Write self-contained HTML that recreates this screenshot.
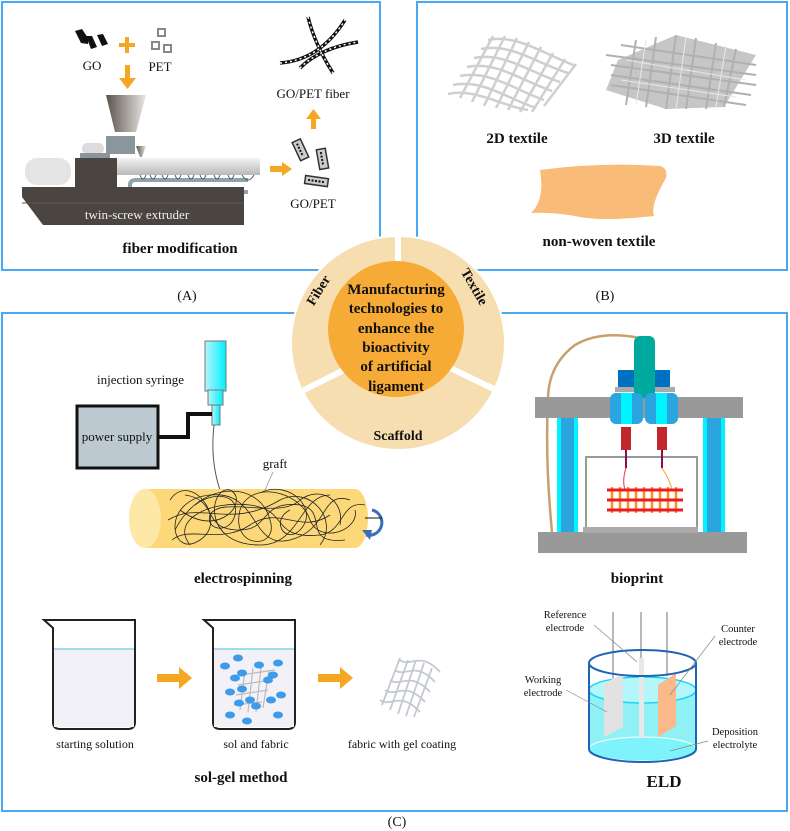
<!DOCTYPE html>
<html><head><meta charset="utf-8"><style>
html,body{margin:0;padding:0;background:#fff}
svg{display:block}
text{font-family:"Liberation Serif",serif;fill:#111}
.b{font-weight:bold}
</style></head><body>
<svg width="790" height="831" viewBox="0 0 790 831" xmlns="http://www.w3.org/2000/svg">
<defs>
<linearGradient id="hop" x1="0" x2="1"><stop offset="0" stop-color="#5a534d"/><stop offset="1" stop-color="#e8e6e4"/></linearGradient>
<linearGradient id="bar" x1="0" y1="0" x2="0" y2="1"><stop offset="0" stop-color="#f4f4f4"/><stop offset="1" stop-color="#b8b8b8"/></linearGradient>
<linearGradient id="syr" x1="0" x2="1"><stop offset="0" stop-color="#b8f4f8"/><stop offset="1" stop-color="#00f0ff"/></linearGradient>
</defs>

<rect x="2" y="2" width="378" height="268" fill="none" stroke="#4aa8f0" stroke-width="2"/>
<rect x="417" y="2" width="370" height="268" fill="none" stroke="#4aa8f0" stroke-width="2"/>
<rect x="2" y="313" width="785" height="498" fill="none" stroke="#4aa8f0" stroke-width="2"/>
<text x="187" y="300" font-size="14" text-anchor="middle">(A)</text>
<text x="605" y="300" font-size="14" text-anchor="middle">(B)</text>
<text x="397" y="826" font-size="14" text-anchor="middle">(C)</text>

<!-- Panel A -->
<g fill="#111">
<polygon points="75,31 82,29 88,38 88,44 81,43"/>
<polygon points="86,36 92,36 97,47 91,49"/>
<polygon points="97,35 103,34 108,44 102,46"/>
</g>
<rect x="125" y="37" width="4" height="16" fill="#f5a623"/><rect x="119" y="43" width="16" height="4" fill="#f5a623"/>
<g fill="#fff" stroke="#888" stroke-width="2"><rect x="158" y="29" width="7" height="7"/><rect x="152" y="42" width="7" height="7"/><rect x="164" y="45" width="7" height="7"/></g>
<text x="92" y="70" font-size="13" text-anchor="middle">GO</text>
<text x="160" y="71" font-size="13" text-anchor="middle">PET</text>
<rect x="125" y="65" width="5" height="14" fill="#f5a623"/><polygon points="119,78 136,78 127.5,89" fill="#f5a623"/>

<polygon points="106,95 146,95 136,132 115,132" fill="url(#hop)"/>
<rect x="106" y="136" width="29" height="18" fill="#8a969c"/>
<polygon points="136,146 146,146 142,157 140,157" fill="url(#hop)"/>
<rect x="82" y="143" width="22" height="11" rx="5" fill="#dcdcdc"/>
<rect x="80" y="153" width="30" height="5" fill="#8a969c"/>
<rect x="25" y="158" width="46" height="27" rx="12" fill="#e4e4e4"/>
<rect x="117" y="158" width="143" height="17" fill="url(#bar)"/>
<path d="M130 200 V185 Q130 180 136 180 H248 M137 192 H248" stroke="#8fa3ad" stroke-width="4" fill="none"/>
<path d="M140 175 q3 8 6 0 M150 175 q3 8 6 0 M162 175 q3 8 6 0 M175 175 q3 8 6 0 M188 175 q3 8 6 0 M200 175 q3 8 6 0 M214 175 q3 8 6 0 M228 175 q3 8 6 0 M242 175 q6 10 12 0" stroke="#555" stroke-width="1" fill="none"/>
<rect x="75" y="158" width="42" height="29" fill="#4a4541"/>
<polygon points="22,187 244,187 244,225 43,225 22,197" fill="#4a4541"/>
<line x1="22" y1="203" x2="244" y2="203" stroke="#5c5652" stroke-width="1"/>
<text x="137" y="219" font-size="13" text-anchor="middle" style="fill:#eee">twin-screw extruder</text>
<rect x="270" y="166" width="13" height="6" fill="#f5a623"/><polygon points="282,162 292,169 282,176" fill="#f5a623"/>
<g fill="#ccc" stroke="#333" stroke-width="1.5">
<rect x="296" y="140" width="9" height="20" transform="rotate(-25 300 150)"/>
<rect x="318" y="149" width="9" height="20" transform="rotate(-10 322 159)"/>
<rect x="305" y="177" width="23" height="8" transform="rotate(8 316 181)"/>
</g>
<g stroke="#111" stroke-width="2" stroke-dasharray="2 1.5" fill="none">
<line x1="300" y1="143" x2="300" y2="157" transform="rotate(-25 300 150)"/>
<line x1="322" y1="152" x2="322" y2="166" transform="rotate(-10 322 159)"/>
<line x1="308" y1="181" x2="325" y2="181" transform="rotate(8 316 181)"/>
</g>
<text x="313" y="208" font-size="13" text-anchor="middle">GO/PET</text>
<rect x="311" y="117" width="5" height="12" fill="#f5a623"/><polygon points="306,119 321,119 313.5,109" fill="#f5a623"/>
<text x="313" y="98" font-size="13" text-anchor="middle">GO/PET fiber</text>
<g fill="none" stroke="#111" stroke-width="3.5">
<path d="M280 63 Q320 60 345 20"/>
<path d="M308 17 Q315 45 333 73"/>
<path d="M300 68 Q320 48 358 42"/>
</g>
<g fill="none" stroke="#fff" stroke-width="1.5" stroke-dasharray="2 3">
<path d="M280 63 Q320 60 345 20"/>
<path d="M308 17 Q315 45 333 73"/>
<path d="M300 68 Q320 48 358 42"/>
</g>
<text x="180" y="253" font-size="15" class="b" text-anchor="middle">fiber modification</text>

<!-- Panel B -->
<g transform="translate(448,36)" stroke="#cfcfcf" stroke-width="2.5" fill="none">
<path d="M40 4 C70 -2 95 18 128 30"/><path d="M33 13 C63 7 88 27 120 37"/><path d="M26 22 C56 16 81 36 112 46"/>
<path d="M19 31 C49 25 74 45 104 55"/><path d="M12 40 C42 34 67 54 96 64"/><path d="M5 49 C35 43 60 63 88 72"/>
<path d="M0 58 C28 52 53 70 80 74"/>
<path d="M45 0 L12 62"/><path d="M57 0 L24 66"/><path d="M69 2 L36 70"/><path d="M81 6 L48 72"/><path d="M93 11 L60 74"/><path d="M105 17 L72 76"/><path d="M117 23 L84 76"/><path d="M128 28 L96 70"/>
</g>
<g transform="translate(606,35)">
<polygon points="12,25 70,0 150,20 118,72 60,74 0,55" fill="#c6c6c6"/>
<g stroke="#b0b0b0" stroke-width="2" fill="none">
<path d="M0 20 L150 40 M5 30 L150 50 M5 40 L145 60 M5 50 L140 70 M15 10 L150 30"/>
<path d="M30 5 L20 70 M50 2 L40 72 M70 0 L60 74 M90 3 L80 74 M110 8 L100 74 M130 14 L118 72"/>
</g>
<g stroke="#e8e8e8" stroke-width="1" fill="none"><path d="M20 25 L140 45 M15 45 L130 62 M40 5 L30 70 M80 2 L70 74 M120 10 L110 72"/></g>
</g>
<path d="M540 170 Q600 162 660 166 Q668 168 666 178 Q650 205 654 216 Q600 222 575 216 Q550 212 531 213 Q545 200 540 170 Z" fill="#f8bc78"/>
<text x="517" y="143" font-size="15" class="b" text-anchor="middle">2D textile</text>
<text x="684" y="143" font-size="15" class="b" text-anchor="middle">3D textile</text>
<text x="599" y="246" font-size="15" class="b" text-anchor="middle">non-woven textile</text>

<!-- central circle -->
<circle cx="398" cy="343" r="108" fill="#fff"/>
<circle cx="398" cy="343" r="106" fill="#f7deb1"/>
<g stroke="#fff" stroke-width="6">
<line x1="398" y1="343" x2="398" y2="232"/>
<line x1="398" y1="343" x2="300" y2="392"/>
<line x1="398" y1="343" x2="496" y2="390"/>
</g>
<circle cx="396" cy="329" r="68" fill="#f7ab37"/>
<g font-size="15" class="b" text-anchor="middle">
<text x="396" y="294">Manufacturing</text>
<text x="396" y="313">technologies to</text>
<text x="396" y="333">enhance the</text>
<text x="396" y="352">bioactivity</text>
<text x="396" y="371">of artificial</text>
<text x="396" y="391">ligament</text>
</g>
<text x="318" y="295" font-size="14" class="b" text-anchor="middle" transform="rotate(-58 318 290)">Fiber</text>
<text x="474" y="291" font-size="14" class="b" text-anchor="middle" transform="rotate(60 474 287)">Textile</text>
<text x="398" y="440" font-size="14" class="b" text-anchor="middle">Scaffold</text>

<!-- electrospinning -->
<text x="97" y="384" font-size="13">injection syringe</text>
<rect x="205" y="341" width="21" height="50" fill="url(#syr)" stroke="#777" stroke-width="1"/>
<rect x="208" y="390" width="15" height="15" fill="url(#syr)" stroke="#777" stroke-width="1"/>
<rect x="212" y="405" width="8" height="20" fill="url(#syr)" stroke="#777" stroke-width="1"/>
<rect x="77" y="406" width="81" height="62" fill="#bdc9d1" stroke="#111" stroke-width="3"/>
<text x="117" y="441" font-size="13" text-anchor="middle">power supply</text>
<path d="M158 437 H188 V414 H212" stroke="#111" stroke-width="4" fill="none"/>
<path d="M214 425 Q210 460 220 490 Q228 520 232 540" stroke="#555" stroke-width="1" fill="none"/>
<rect x="145" y="489" width="210" height="59" fill="#fcd878"/>
<ellipse cx="355" cy="518.5" rx="13" ry="29.5" fill="#fcd878"/>
<ellipse cx="145" cy="518.5" rx="16" ry="29.5" fill="#fde8a8"/>
<g stroke="#222" stroke-width="0.8" fill="none">
<path d="M170 500 C190 470 230 520 200 540 C170 560 160 500 210 495 C260 490 250 550 290 540 C330 530 320 490 350 500"/>
<path d="M175 530 C200 480 260 480 270 520 C280 550 230 550 240 510 C250 480 300 490 310 520 C320 545 360 530 355 510"/>
<path d="M180 510 C220 540 250 500 230 490 C210 485 200 545 260 545 C300 545 300 495 330 495"/>
<path d="M190 545 C170 520 210 500 250 505 C290 510 270 540 320 535 C345 532 340 500 365 505"/>
<path d="M168 520 C200 500 230 530 280 500 C310 485 340 520 320 545"/>
<path d="M185 495 C220 500 200 530 240 530 C270 530 260 500 300 505 C330 510 300 545 345 540"/>
<path d="M195 505 C215 490 240 495 235 515 C230 535 205 530 210 515 C220 495 280 520 300 500 C320 485 345 500 340 525"/>
<path d="M172 540 C190 525 220 545 250 525 C280 505 300 535 330 515"/>
<path d="M262 492 C290 480 320 510 300 530 C285 545 270 520 290 510"/>
</g>
<path d="M372 510 A10 10 0 1 1 366 535" stroke="#3a6fb8" stroke-width="3" fill="none"/>
<polygon points="362,530 370,540 372,530" fill="#3a6fb8"/>
<line x1="365" y1="518" x2="382" y2="518" stroke="#111" stroke-width="1"/>
<text x="275" y="468" font-size="13" text-anchor="middle">graft</text>
<line x1="273" y1="472" x2="265" y2="490" stroke="#999" stroke-width="0.8"/>
<text x="243" y="583" font-size="15" class="b" text-anchor="middle">electrospinning</text>

<!-- bioprint -->
<path d="M640 338 Q600 330 575 345 Q548 365 548 400 Q545 460 552 532" stroke="#c8a070" stroke-width="2.5" fill="none"/>
<rect x="557" y="418" width="21" height="114" fill="#00f4ff"/><rect x="561" y="418" width="13" height="114" fill="#2aa5e0"/>
<rect x="703" y="418" width="22" height="114" fill="#00f4ff"/><rect x="707" y="418" width="14" height="114" fill="#2aa5e0"/>
<rect x="535" y="397" width="208" height="21" fill="#999"/>
<rect x="538" y="532" width="209" height="21" fill="#999"/>
<rect x="586" y="457" width="111" height="74" fill="#fff" stroke="#999" stroke-width="2"/>
<rect x="583" y="527" width="115" height="6" fill="#aaa"/>
<rect x="618" y="370" width="52" height="17" fill="#0070c0"/>
<rect x="615" y="387" width="60" height="5" fill="#aaa"/>
<rect x="634" y="336" width="21" height="62" rx="6" fill="#00a99d"/>
<rect x="610" y="393" width="33" height="31" rx="6" fill="#2aa5e0"/><rect x="621" y="393" width="11" height="31" fill="#00f4ff"/>
<rect x="645" y="393" width="33" height="31" rx="6" fill="#2aa5e0"/><rect x="656" y="393" width="11" height="31" fill="#00f4ff"/>
<rect x="621" y="427" width="10" height="23" fill="#c1272d"/><rect x="657" y="427" width="10" height="23" fill="#c1272d"/>
<line x1="626" y1="450" x2="626" y2="468" stroke="#8b0a50" stroke-width="2"/><line x1="662" y1="450" x2="662" y2="468" stroke="#8b0a50" stroke-width="2"/>
<path d="M626 468 Q622 480 625 490" stroke="#e33" stroke-width="1" fill="none"/>
<path d="M662 468 Q670 480 672 490" stroke="#f5a623" stroke-width="1" fill="none"/>
<g stroke="#f7941d" stroke-width="2.5"><path d="M612 487V513M620 487V513M628 487V513M636 487V513M644 487V513M652 487V513M660 487V513M668 487V513M676 487V513"/></g>
<g stroke="#ed1c24" stroke-width="3"><path d="M607 490H683M607 500H683M607 510H683"/></g>
<text x="637" y="583" font-size="15" class="b" text-anchor="middle">bioprint</text>

<!-- sol-gel -->
<g stroke="#222" stroke-width="2" fill="none">
<path d="M44 620 H135 V722 Q135 729 128 729 H60 Q53 729 53 722 V628 Z" fill="#fff"/>
<path d="M204 620 H295 V722 Q295 729 288 729 H220 Q213 729 213 722 V628 Z" fill="#fff"/>
</g>
<rect x="54" y="649" width="80" height="78" fill="#f3f1f8"/><line x1="54" y1="649" x2="134" y2="649" stroke="#7fd2ea" stroke-width="1.5"/>
<rect x="214" y="649" width="80" height="78" fill="#f3f1f8"/><line x1="214" y1="649" x2="294" y2="649" stroke="#7fd2ea" stroke-width="1.5"/>
<g stroke="#bbb" stroke-width="1.2" fill="none"><path d="M240 675 L275 670 M238 685 L272 680 M236 695 L268 690 M234 705 L262 702 M245 670 L240 710 M253 668 L248 712 M261 668 L256 712 M269 670 L263 708"/></g>
<g fill="#3d9be9">
<ellipse cx="225" cy="666" rx="5" ry="3.5"/><ellipse cx="238" cy="658" rx="5" ry="3.5"/><ellipse cx="259" cy="665" rx="5" ry="3.5"/><ellipse cx="278" cy="663" rx="5" ry="3.5"/>
<ellipse cx="242" cy="673" rx="5" ry="3.5"/><ellipse cx="235" cy="678" rx="5" ry="3.5"/><ellipse cx="273" cy="675" rx="5" ry="3.5"/><ellipse cx="268" cy="680" rx="5" ry="3.5"/>
<ellipse cx="230" cy="692" rx="5" ry="3.5"/><ellipse cx="242" cy="689" rx="5" ry="3.5"/><ellipse cx="281" cy="695" rx="5" ry="3.5"/><ellipse cx="250" cy="700" rx="5" ry="3.5"/>
<ellipse cx="239" cy="703" rx="5" ry="3.5"/><ellipse cx="271" cy="700" rx="5" ry="3.5"/><ellipse cx="256" cy="706" rx="5" ry="3.5"/>
<ellipse cx="230" cy="715" rx="5" ry="3.5"/><ellipse cx="247" cy="721" rx="5" ry="3.5"/><ellipse cx="278" cy="715" rx="5" ry="3.5"/>
</g>
<rect x="157" y="674" width="23" height="8" fill="#f5a623"/><polygon points="179,667 192,678 179,689" fill="#f5a623"/>
<rect x="318" y="674" width="23" height="8" fill="#f5a623"/><polygon points="340,667 353,678 340,689" fill="#f5a623"/>
<g stroke="#c4c8d0" stroke-width="1.8" fill="none">
<path d="M400 660 C410 668 420 650 440 672 M395 670 C405 678 415 660 435 682 M390 680 C400 688 410 670 430 692 M385 690 C395 698 405 680 425 702 M380 700 C390 708 400 690 420 712"/>
<path d="M400 658 L382 705 M408 660 L390 710 M416 660 L398 714 M424 663 L406 716 M432 668 L414 717"/>
</g>
<text x="95" y="748" font-size="12" text-anchor="middle">starting solution</text>
<text x="256" y="748" font-size="12" text-anchor="middle">sol and fabric</text>
<text x="402" y="748" font-size="12" text-anchor="middle">fabric with gel coating</text>
<text x="241" y="782" font-size="15" class="b" text-anchor="middle">sol-gel method</text>

<!-- ELD -->
<path d="M589 690 V749 A53.5 13 0 0 0 696 749 V690 A53.5 13 0 0 0 589 690 Z" fill="#8ff0f6"/>
<ellipse cx="642.5" cy="749" rx="53.5" ry="12" fill="#7ef3fb" stroke="#fff" stroke-width="1"/>
<ellipse cx="642.5" cy="690" rx="53.5" ry="13" fill="#b4f7fb" stroke="#1ad6f0" stroke-width="1.5"/>
<line x1="613" y1="612" x2="613" y2="678" stroke="#888" stroke-width="1.2"/>
<line x1="641" y1="612" x2="641" y2="660" stroke="#888" stroke-width="1.2"/>
<line x1="667" y1="612" x2="667" y2="676" stroke="#888" stroke-width="1.2"/>
<polygon points="604,683 623,674 623,727 604,737" fill="#e2e2e2"/>
<rect x="639" y="658" width="5" height="80" fill="#e8e8e8"/>
<polygon points="658,685 676,673 676,726 658,737" fill="#fbb88a"/>
<ellipse cx="642.5" cy="663" rx="53.5" ry="13" fill="none" stroke="#1f63b5" stroke-width="2"/>
<line x1="589" y1="663" x2="589" y2="749" stroke="#1f63b5" stroke-width="2"/>
<line x1="696" y1="663" x2="696" y2="749" stroke="#1f63b5" stroke-width="2"/>
<path d="M589 749 A53.5 13 0 0 0 696 749" fill="none" stroke="#1f63b5" stroke-width="2"/>
<g stroke="#888" stroke-width="0.7"><line x1="594" y1="625" x2="637" y2="662"/><line x1="715" y1="636" x2="670" y2="695"/><line x1="566" y1="690" x2="607" y2="712"/><line x1="708" y1="741" x2="670" y2="751"/></g>
<g font-size="10.5" text-anchor="middle">
<text x="565" y="618">Reference</text><text x="565" y="631">electrode</text>
<text x="738" y="632">Counter</text><text x="738" y="645">electrode</text>
<text x="543" y="683">Working</text><text x="543" y="696">electrode</text>
<text x="735" y="735">Deposition</text><text x="735" y="748">electrolyte</text>
</g>
<text x="664" y="787" font-size="17" class="b" text-anchor="middle">ELD</text>
</svg>
</body></html>
